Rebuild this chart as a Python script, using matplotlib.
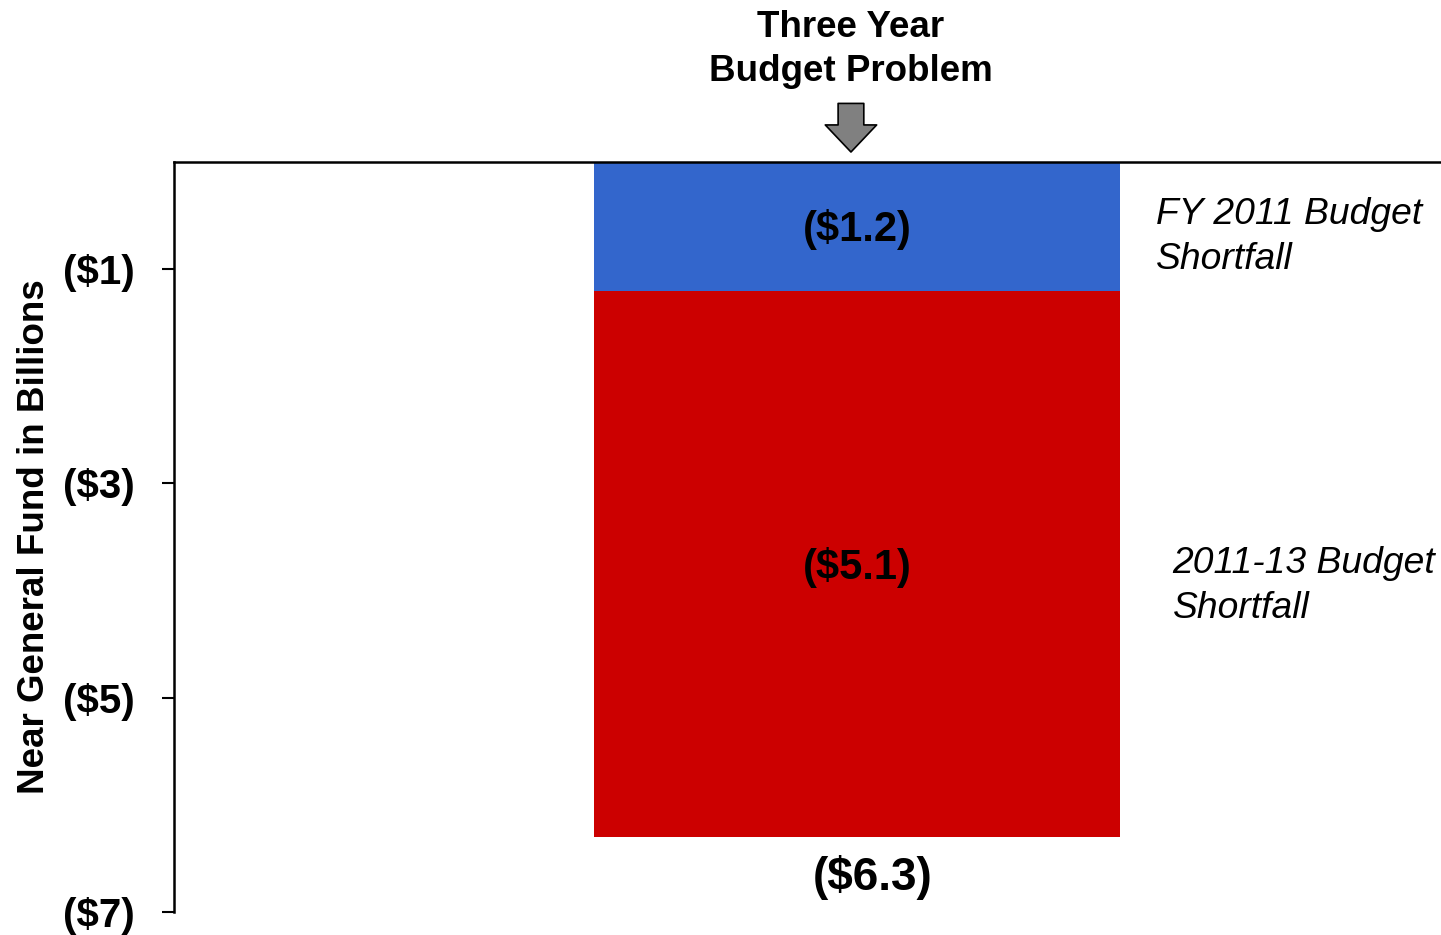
import numpy as np
import matplotlib.pyplot as plt

plt.rcParams['font.family'] = ['Liberation Sans', 'DejaVu Sans']

# data (billions, shown as negatives)
segments = ['FY 2011 Budget\nShortfall', '2011-13 Budget\nShortfall']
values = [1.2, 5.1]
colors = ['#3366CC', '#CC0000']
total = sum(values)
yticks = [-1, -3, -5, -7]
yticklabels = ['($1)', '($3)', '($5)', '($7)']

fig = plt.figure(figsize=(14.41, 9.35), dpi=100)
ax = fig.add_axes([174/1441, 23/935, 1267/1441, 750/935])

bottom = 0.0
for v, c, lab in zip(values, colors, segments):
    ax.bar(0, -v, bottom=bottom, width=1.0, color=c, edgecolor='none')
    mid = bottom - v/2
    ax.text(0, mid - 0.03, '($%.1f)' % v, ha='center', va='center',
            fontsize=30, fontweight='bold')
    bottom -= v

# side labels
ax.text(0.568, -0.70, segments[0], ha='left', va='center', fontsize=26.8,
        style='italic', linespacing=1.38)
ax.text(0.6, -3.96, segments[1], ha='left', va='center', fontsize=26.8,
        style='italic', linespacing=1.38)

# total below bar
ax.text(0.03, -total - 0.38, '($%.1f)' % total, ha='center', va='center',
        fontsize=33, fontweight='bold')

# heading + arrow
ax.annotate('', xy=(-0.0114, 1.0133), xycoords=('data', 'axes fraction'),
            xytext=(0, 35), textcoords='offset points',
            arrowprops=dict(arrowstyle='simple,head_width=37,head_length=19.5,tail_width=18.5',
                            mutation_scale=1, fc='#808080', ec='black', lw=1.2,
                            shrinkA=0, shrinkB=0))
ax.text(-0.0114, 1.0 + 73/750, 'Three Year\nBudget Problem', transform=ax.get_xaxis_transform(),
        ha='center', va='bottom', fontsize=26.5, fontweight='bold', linespacing=1.32)

ax.set_xlim(-1.298, 1.110)
ax.set_ylim(-7, 0)
ax.set_xticks([])
ax.set_yticks(yticks)
ax.set_yticklabels(yticklabels, fontsize=29, fontweight='bold')
ax.tick_params(axis='y', direction='out', length=8.6, width=1.5, pad=20)
ax.set_ylabel('Near General Fund in Billions', fontsize=26.5, fontweight='bold')
ax.yaxis.set_label_coords(-0.096, 0.5)

ax.spines['right'].set_visible(False)
ax.spines['bottom'].set_visible(False)
ax.spines['left'].set_linewidth(1.8)
ax.spines['top'].set_linewidth(1.8)

fig.savefig('out.png', dpi=100)
